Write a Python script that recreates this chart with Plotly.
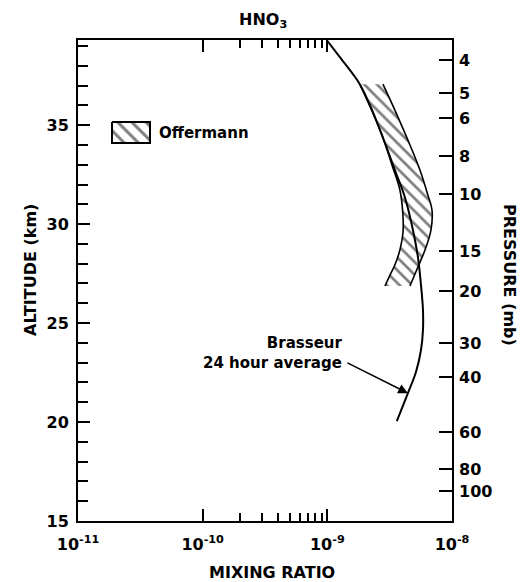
import numpy as np
import plotly.graph_objects as go

# ---------------- data ----------------
brasseur_ratio = [0.99e-9, 1.26e-9, 1.82e-9, 2.32e-9, 2.84e-9, 3.48e-9, 4.19e-9, 4.86e-9,
                  5.33e-9, 5.64e-9, 5.85e-9, 5.85e-9, 5.64e-9, 5.14e-9, 4.43e-9, 3.61e-9]
brasseur_alt = [39.29, 38.43, 37.07, 35.66, 34.24, 32.73, 31.36, 29.70,
                28.33, 26.92, 25.66, 24.65, 23.64, 22.53, 21.46, 20.05]

offermann_left_ratio = [1.82e-9, 2.32e-9, 2.84e-9, 3.30e-9, 3.82e-9, 4.04e-9, 4.04e-9,
                        3.82e-9, 3.48e-9, 3.18e-9, 2.90e-9]
offermann_left_alt = [37.07, 35.61, 34.24, 32.98, 31.72, 30.45, 29.55, 28.69, 27.93, 27.42, 26.87]
offermann_right_ratio = [2.79e-9, 3.48e-9, 4.43e-9, 5.53e-9, 6.41e-9, 6.91e-9, 6.78e-9,
                         6.07e-9, 5.33e-9, 4.60e-9]
offermann_right_alt = [37.07, 35.76, 34.24, 32.73, 31.46, 30.71, 29.70, 28.69, 27.83, 26.87]

arrow_ratio = 4.43e-9
arrow_alt = 21.46

pressure_labels = ["4", "5", "6", "8", "10", "15", "20", "30", "40", "60", "80", "100"]
pressure_alt = [38.28, 36.62, 35.35, 33.43, 31.52, 28.64, 26.62, 23.99, 22.27, 19.49, 17.63, 16.52]

alt_major = [15, 20, 25, 30, 35]
ratio_ticks = [1e-11, 1e-10, 1e-9, 1e-8]
ratio_tick_text = ["10<sup>-11</sup>", "10<sup>-10</sup>", "10<sup>-9</sup>", "10<sup>-8</sup>"]
ratio_minor = [2e-10, 3e-10, 4e-10, 5e-10, 6e-10, 7e-10, 8e-10, 9e-10]

ALT_RANGE = [15, 39.3]

# ---------------- layout helpers ----------------
W, H = 526, 582
L, R, T, B = 78, 74, 40, 61
PW, PH = W - L - R, H - T - B


def px(x):
    return (x - L) / PW


def py(y):
    return (H - B - y) / PH


FONT = dict(family="DejaVu Sans", color="black", weight="bold")

fig = go.Figure()

# Offermann hatched band (fill only)
band_x = offermann_left_ratio + offermann_right_ratio[::-1] + [offermann_left_ratio[0]]
band_y = offermann_left_alt + offermann_right_alt[::-1] + [offermann_left_alt[0]]
fig.add_trace(go.Scatter(
    x=band_x, y=band_y, mode="lines", fill="toself",
    line=dict(width=0, color="rgba(0,0,0,0)"),
    fillcolor="rgba(0,0,0,0)",
    fillpattern=dict(shape="\\", size=9, solidity=0.3, fgcolor="black",
                     bgcolor="rgba(0,0,0,0)"),
    showlegend=False, hoverinfo="skip"))
# band edges
fig.add_trace(go.Scatter(x=offermann_left_ratio, y=offermann_left_alt, mode="lines",
                         line=dict(color="black", width=1.6, shape="spline"),
                         showlegend=False))
fig.add_trace(go.Scatter(x=offermann_right_ratio, y=offermann_right_alt, mode="lines",
                         line=dict(color="black", width=1.6, shape="spline"),
                         showlegend=False))

# Brasseur curve
fig.add_trace(go.Scatter(x=brasseur_ratio, y=brasseur_alt, mode="lines",
                         line=dict(color="black", width=2, shape="spline"),
                         showlegend=False))

# legend sample box on an invisible overlay axis (paper-like coordinates)
bx0, bx1, by0, by1 = px(112), px(150), py(143), py(122)
fig.add_trace(go.Scatter(
    x=[bx0, bx1, bx1, bx0, bx0], y=[by1, by1, by0, by0, by1],
    xaxis="x3", yaxis="y3", mode="lines", fill="toself",
    line=dict(color="black", width=2),
    fillcolor="rgba(0,0,0,0)",
    fillpattern=dict(shape="\\", size=10, solidity=0.3, fgcolor="black",
                     bgcolor="rgba(0,0,0,0)"),
    showlegend=False, hoverinfo="skip"))

# dummy trace to make the pressure axis render
fig.add_trace(go.Scatter(x=[None], y=[None], yaxis="y2", showlegend=False))

fig.update_layout(
    width=W, height=H,
    margin=dict(l=L, r=R, t=T, b=B),
    paper_bgcolor="white", plot_bgcolor="white",
    showlegend=False,
    xaxis=dict(
        type="log", range=[-11, -8],
        tickvals=ratio_ticks, ticktext=ratio_tick_text,
        ticks="inside", ticklen=12, tickwidth=1.5, tickcolor="black",
        minor=dict(tickvals=ratio_minor, ticks="inside", ticklen=8, tickwidth=1.5,
                   tickcolor="black"),
        showline=True, linecolor="black", linewidth=2, mirror="ticks",
        showgrid=False, zeroline=False,
        tickfont=dict(size=16, **FONT), ticklabelstandoff=8,
    ),
    yaxis=dict(
        range=ALT_RANGE, tickvals=alt_major,
        ticks="inside", ticklen=12, tickwidth=1.5, tickcolor="black",
        minor=dict(dtick=1, tick0=15, ticks="inside", ticklen=10, tickwidth=1.5,
                   tickcolor="black"),
        showline=True, linecolor="black", linewidth=2, mirror=True,
        showgrid=False, zeroline=False,
        tickfont=dict(size=16, **FONT), ticklabelstandoff=4,
    ),
    yaxis2=dict(
        overlaying="y", side="right", range=ALT_RANGE,
        tickvals=pressure_alt, ticktext=pressure_labels,
        ticks="inside", ticklen=13, tickwidth=1.5, tickcolor="black",
        showline=False, showgrid=False, zeroline=False,
        tickfont=dict(size=16, **FONT), ticklabelstandoff=6,
    ),
    xaxis3=dict(overlaying="x", range=[0, 1], visible=False, anchor="y3"),
    yaxis3=dict(overlaying="y", range=[0, 1], visible=False, anchor="x3"),
)

ann = [
    dict(text="HNO<sub>3</sub>", x=px(263), y=py(21), xanchor="center", yanchor="middle",
         font=dict(size=16, **FONT)),
    dict(text="MIXING RATIO", x=px(272), y=py(572), xanchor="center", yanchor="middle",
         font=dict(size=16, **FONT)),
    dict(text="ALTITUDE (km)", x=px(30), y=py(270), xanchor="center", yanchor="middle",
         textangle=-90, font=dict(size=16, **FONT)),
    dict(text="PRESSURE (mb)", x=px(510), y=py(275), xanchor="center", yanchor="middle",
         textangle=90, font=dict(size=16, **FONT)),
    dict(text="Offermann", x=px(157), y=py(133), xanchor="left", yanchor="middle",
         font=dict(size=15, **FONT)),
    dict(text="Brasseur<br>24 hour average", x=px(344), y=py(353), xanchor="right",
         yanchor="middle", align="right", font=dict(size=15, **FONT)),
]
for a in ann:
    a.update(xref="paper", yref="paper", showarrow=False)
    fig.add_annotation(**a)

fig.add_annotation(x=np.log10(arrow_ratio), y=arrow_alt, xref="x", yref="y", text="",
                   showarrow=True, arrowhead=2, arrowsize=1.3, arrowwidth=1.5,
                   arrowcolor="black", ax=-62, ay=-31)

fig.write_html("out.html")
